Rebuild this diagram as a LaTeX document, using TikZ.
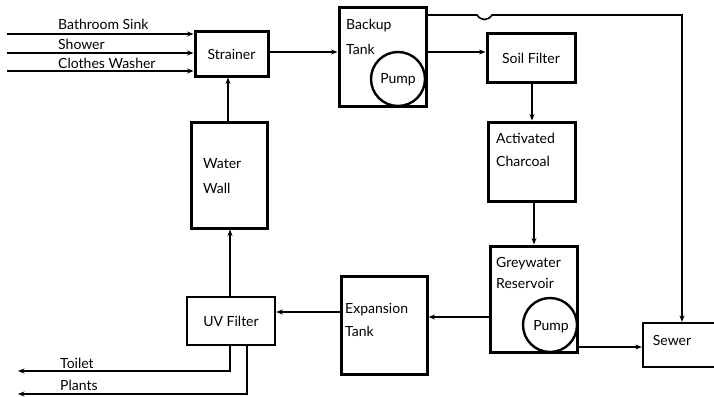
\documentclass[tikz,border=0pt]{standalone}
\usepackage{fontspec}
\setmainfont{Lato}
\usetikzlibrary{arrows.meta,calc}
\begin{document}
\begin{tikzpicture}[x=1pt,y=-1pt,
  box/.style={draw,line width=3pt,inner sep=0pt},
  pump/.style={draw,circle,line width=2.4pt,inner sep=0pt,minimum size=54pt},
  txt/.style={font=\fontsize{14}{16}\selectfont,inner sep=0pt},
  conn/.style={line width=1.6pt},
  arr/.style={conn,-{Stealth[length=6.5pt,width=5pt]}}]
\useasboundingbox (0,0) rectangle (714,396);

% boxes
\node[box,minimum width=73pt,minimum height=44pt] (strainer) at (231.5,54) {};
\node[box,minimum width=87pt,minimum height=98pt] (backup) at (382.5,57) {};
\node[pump] (bpump) at (398,79) {};
\node[box,minimum width=88pt,minimum height=48pt] (soil) at (531,58) {};
\node[box,minimum width=87pt,minimum height=79pt] (charcoal) at (531.5,161.5) {};
\node[box,minimum width=87pt,minimum height=106pt] (grey) at (533.5,299) {};
\node[pump] (gpump) at (550,325) {};
\node[box,line width=2.2pt,minimum width=77pt,minimum height=44pt] (sewer) at (681.5,345) {};
\node[box,minimum width=86pt,minimum height=98pt] (expansion) at (384,325) {};
\node[box,line width=2.4pt,minimum width=88pt,minimum height=48pt] (uv) at (231,321) {};
\node[box,minimum width=76pt,minimum height=106pt] (wall) at (229,175) {};

% texts
\node[txt,anchor=base west] (tbath) at (58,30) {Bathroom Sink};
\node[txt,anchor=base west] (tshower) at (58,49) {Shower};
\node[txt,anchor=base west] (tclothes) at (58,68) {Clothes Washer};
\node[txt] (tstrainer) at (strainer.center) {Strainer};
\node[txt,anchor=base west] (tbackup1) at (346,30) {Backup};
\node[txt,anchor=base west] (tbackup2) at (346,55) {Tank};
\node[txt] (tbpump) at (398,80) {Pump};
\node[txt] (tsoil) at (531,58) {Soil Filter};
\node[txt,anchor=base west] (tchar1) at (496,143) {Activated};
\node[txt,anchor=base west] (tchar2) at (496,166) {Charcoal};
\node[txt,anchor=base west] (tgrey1) at (496,267) {Greywater};
\node[txt,anchor=base west] (tgrey2) at (496,288) {Reservoir};
\node[txt] (tgpump) at (551,327) {Pump};
\node[txt] (tsewer) at (672,340) {Sewer};
\node[txt,anchor=base west] (texp1) at (345,313) {Expansion};
\node[txt,anchor=base west] (texp2) at (345,336) {Tank};
\node[txt] (tuv) at (231,321) {UV Filter};
\node[txt,anchor=base west] (twall1) at (203,168) {Water};
\node[txt,anchor=base west] (twall2) at (203,193) {Wall};
\node[txt,anchor=base west] (ttoilet) at (60,368) {Toilet};
\node[txt,anchor=base west] (tplants) at (60,390) {Plants};

% free ends
\coordinate (in1) at (7,34);
\coordinate (in2) at (7,53);
\coordinate (in3) at (7,71);
\coordinate (hopA) at (477,15);
\coordinate (hopB) at (492,15);
\coordinate (corner) at (682,15);
\coordinate (toiletC) at (230,371);
\coordinate (toiletE) at (18,371);
\coordinate (plantsC) at (247,394);
\coordinate (plantsE) at (18,394);

% connectors
\draw[arr] (in1) -- (in1 -| strainer.west);
\draw[arr] (in2) -- (in2 -| strainer.west);
\draw[arr] (in3) -- (in3 -| strainer.west);
\draw[arr] (strainer.east |- 0,52) -- (backup.west |- 0,52);
\draw[arr] (backup.east |- 0,52) -- (soil.west |- 0,52);
\draw[arr] (backup.east |- hopA) -- (hopA) .. controls (481,21) and (488,21) .. (hopB) -- (corner) -- (corner |- sewer.north);
\draw[arr] (soil.south -| 532,0) -- (charcoal.north -| 532,0);
\draw[arr] (charcoal.south -| 534,0) -- (grey.north -| 534,0);
\draw[arr] (grey.west |- 0,317) -- (expansion.east |- 0,317);
\draw[arr] (grey.east |- 0,347) -- (sewer.west |- 0,347);
\draw[arr] (expansion.west |- 0,312) -- (uv.east |- 0,312);
\draw[arr] (uv.north -| 230,0) -- (wall.south -| 230,0);
\draw[arr] (wall.north -| 228,0) -- (strainer.south -| 228,0);
\draw[arr] (uv.south -| toiletC) -- (toiletC) -- (toiletE);
\draw[arr] (uv.south -| plantsC) -- (plantsC) -- (plantsE);
\end{tikzpicture}
\end{document}
